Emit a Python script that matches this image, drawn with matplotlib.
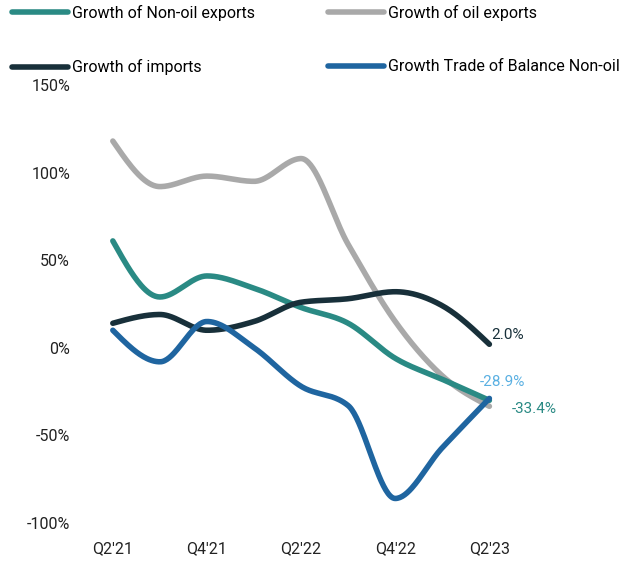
import numpy as np
import matplotlib
matplotlib.use("Agg")
import matplotlib.pyplot as plt
from matplotlib.lines import Line2D

plt.rcParams['font.family'] = ['Roboto', 'DejaVu Sans']

# Quarterly growth rates (%)
quarters = ["Q2'21", "Q3'21", "Q4'21", "Q1'22", "Q2'22", "Q3'22", "Q4'22", "Q1'23", "Q2'23"]
non_oil_exports = [61, 29, 41, 34, 23, 14, -6, -18, -30]
oil_exports = [118, 92, 98, 95, 108, 59, 15, -16, -33.4]
imports = [14, 19, 10, 15, 26, 28, 32, 24, 2.0]
trade_balance_non_oil = [10, -8, 15, 0, -22, -33, -86, -57, -28.9]

series_names = ["Growth of Non-oil exports", "Growth of oil exports",
                "Growth of imports", "Growth Trade of Balance Non-oil"]
series_colors = ["#2a8a84", "#a9a9a9", "#18303a", "#1f65a0"]

y_ticks = [-100, -50, 0, 50, 100, 150]
y_tick_labels = ["-100%", "-50%", "0%", "50%", "100%", "150%"]
x_tick_positions = [0, 2, 4, 6, 8]
x_tick_labels = [quarters[i] for i in x_tick_positions]


def monotone_curve(y, n=40):
    """Monotone cubic (Fritsch-Carlson style) interpolation on unit-spaced x."""
    y = np.asarray(y, float)
    m = len(y)
    s = np.diff(y)
    t = np.zeros(m)
    for i in range(1, m - 1):
        s0, s1 = s[i - 1], s[i]
        p = (s0 + s1) / 2
        t[i] = (np.sign(s0) + np.sign(s1)) * min(abs(s0), abs(s1), 0.5 * abs(p))
    t[0] = (3 * s[0] - t[1]) / 2
    t[-1] = (3 * s[-1] - t[-2]) / 2
    xs, ys = [], []
    for i in range(m - 1):
        u = np.linspace(0, 1, n, endpoint=(i == m - 2))
        h00 = 2 * u**3 - 3 * u**2 + 1
        h10 = u**3 - 2 * u**2 + u
        h01 = -2 * u**3 + 3 * u**2
        h11 = u**3 - u**2
        xs.append(i + u)
        ys.append(h00 * y[i] + h10 * t[i] + h01 * y[i + 1] + h11 * t[i + 1])
    return np.concatenate(xs), np.concatenate(ys)


fig = plt.figure(figsize=(6.2, 5.62), dpi=100)
ax = fig.add_axes([0.14, 0.0694, 0.83, 0.7794])

all_series = [non_oil_exports, oil_exports, imports, trade_balance_non_oil]
draw_order = [1, 0, 2, 3]
for k in draw_order:
    xs, ys = monotone_curve(all_series[k])
    ax.plot(xs, ys, color=series_colors[k], lw=4, solid_capstyle='round',
            solid_joinstyle='round')

ax.set_xlim(-0.553, 10.38)
ax.set_ylim(-100, 150)
ax.set_yticks(y_ticks)
ax.set_yticklabels(y_tick_labels)
ax.set_xticks(x_tick_positions)
ax.set_xticklabels(x_tick_labels)
ax.tick_params(axis='both', length=0, labelsize=11.5, colors='#222222')
ax.tick_params(axis='y', pad=12)
ax.tick_params(axis='x', pad=13)
for sp in ax.spines.values():
    sp.set_visible(False)

# End-of-series value labels
last = len(quarters) - 1
ax.annotate(f"{imports[-1]:.1f}%", (last, imports[-1]), xytext=(1, 6.5),
            textcoords='offset points', color='#18303a', fontsize=11,
            ha='left', va='center')
ax.annotate(f"{trade_balance_non_oil[-1]:.1f}%", (last, trade_balance_non_oil[-1]),
            xytext=(-7, 12), textcoords='offset points', color='#5ab0e2',
            fontsize=11, ha='left', va='center')
ax.annotate(f"{oil_exports[-1]:.1f}%", (last, oil_exports[-1]),
            xytext=(16, -2), textcoords='offset points', color='#2a8a84',
            fontsize=11, ha='left', va='center')

# Legend laid out row by row: (Non-oil, oil) on top, (imports, trade balance) below
handles = [Line2D([], [], color=c, lw=4, solid_capstyle='round') for c in series_colors]
order = [0, 2, 1, 3]
fig.legend([handles[i] for i in order], [series_names[i] for i in order],
           ncol=2, loc='upper left', bbox_to_anchor=(0.0194, 0.991),
           frameon=False, fontsize=11.5, borderpad=0, borderaxespad=0,
           handlelength=3.5, handletextpad=0.25, columnspacing=4.6,
           labelspacing=2.4)

fig.savefig("out.png", dpi=100)
